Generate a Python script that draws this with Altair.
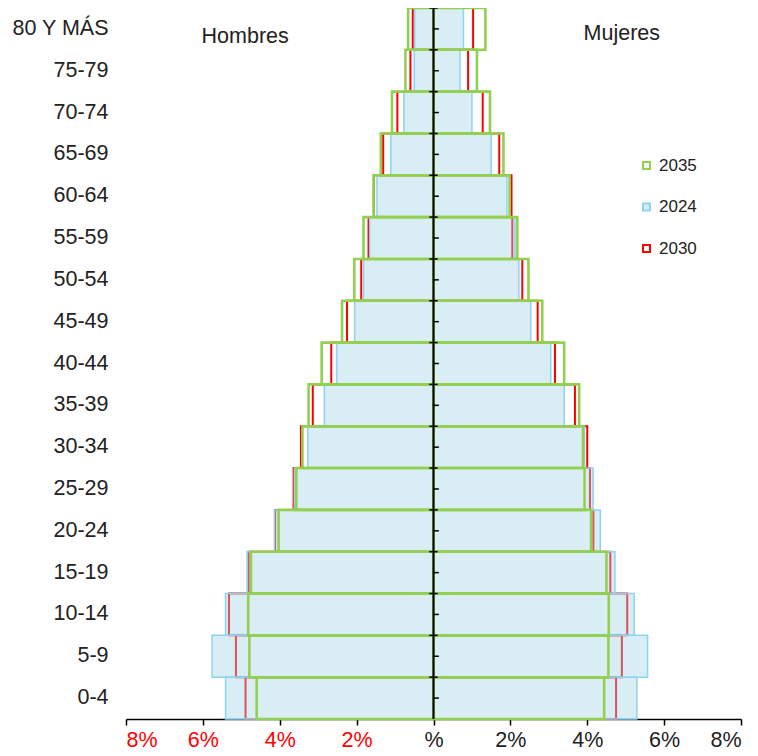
import altair as alt
import pandas as pd

ages = ["80 Y MÁS", "75-79", "70-74", "65-69", "60-64", "55-59", "50-54", "45-49",
        "40-44", "35-39", "30-34", "25-29", "20-24", "15-19", "10-14", "5-9", "0-4"]

men_2024 = [0.49, 0.50, 0.77, 1.11, 1.47, 1.66, 1.82, 2.05, 2.52, 2.84, 3.27, 3.62, 4.14, 4.85, 5.41, 5.76, 5.41]
men_2030 = [0.54, 0.60, 0.94, 1.31, 1.55, 1.69, 1.88, 2.25, 2.66, 3.14, 3.45, 3.64, 4.12, 4.81, 5.32, 5.14, 4.89]
men_2035 = [0.66, 0.73, 1.08, 1.37, 1.56, 1.82, 2.06, 2.38, 2.91, 3.25, 3.41, 3.57, 4.03, 4.75, 4.82, 4.79, 4.60]

women_2024 = [0.78, 0.69, 1.00, 1.50, 1.91, 2.12, 2.22, 2.53, 3.05, 3.40, 3.93, 4.15, 4.34, 4.72, 5.22, 5.57, 5.29]
women_2030 = [1.03, 0.90, 1.28, 1.71, 2.03, 2.05, 2.31, 2.71, 3.16, 3.68, 4.00, 4.07, 4.16, 4.60, 5.04, 4.90, 4.75]
women_2035 = [1.35, 1.13, 1.47, 1.82, 1.98, 2.18, 2.47, 2.83, 3.40, 3.79, 3.89, 3.93, 4.10, 4.50, 4.56, 4.55, 4.44]

legend_years = ["2035", "2024", "2030"]
x_ticks = [-8, -6, -4, -2, 0, 2, 4, 6, 8]

rows = []
for sign, series in [(-1, {"2024": men_2024, "2030": men_2030, "2035": men_2035}),
                     (1, {"2024": women_2024, "2030": women_2030, "2035": women_2035})]:
    for year, vals in series.items():
        for a, v in zip(ages, vals):
            rows.append({"age": a, "year": year, "value": sign * v, "zero": 0})
df = pd.DataFrame(rows)
age_df = pd.DataFrame({"age": ages})
one_df = pd.DataFrame({"k": [0]})

FONT = "Liberation Sans"
FS = 21.5

stroke_scale = alt.Scale(domain=legend_years, range=["#92d050", "#8dd3f2", "#ff0000"])
fill_scale = alt.Scale(domain=legend_years,
                       range=["transparent", "rgba(160,210,228,0.4)", "transparent"])

legend = alt.Legend(title=None, orient="none", legendX=512, legendY=149,
                    symbolType="square", symbolSize=49, symbolStrokeWidth=2,
                    labelFontSize=17, labelFont=FONT, labelColor="#222",
                    rowPadding=23.5, labelOffset=4)

x_scale = alt.Scale(domain=[-8, 8], nice=False, zero=False)
y_scale = alt.Scale(domain=ages, paddingInner=0, paddingOuter=0)

x_axis = alt.Axis(title=None, values=x_ticks, grid=False,
                  labelExpr="datum.value == 0 ? '%' : abs(datum.value) + '%'",
                  labelColor=alt.condition("datum.value < 0", alt.value("#ff0000"), alt.value("#222222")),
                  labelFontSize=FS, labelFont=FONT, labelPadding=4,
                  domainColor="black", domainWidth=1.5,
                  tickColor="black", tickSize=6, tickWidth=1.5)
y_axis = alt.Axis(title=None, domain=False, ticks=False, grid=False, labelFontSize=FS,
                  labelFont=FONT, labelColor="#222222", labelPadding=18)

x_enc = alt.X("value:Q", scale=x_scale, axis=x_axis)
y_enc = alt.Y("age:N", sort=ages, scale=y_scale, axis=y_axis)


def bars(year, sw):
    return alt.Chart(df).transform_filter(alt.datum.year == year).mark_bar(strokeWidth=sw).encode(
        y=y_enc,
        x=x_enc,
        x2="zero:Q",
        stroke=alt.Stroke("year:N", scale=stroke_scale, legend=legend),
        fill=alt.Fill("year:N", scale=fill_scale, legend=legend),
    )


red = bars("2030", 2)
blue = bars("2024", 1.5)
green = bars("2035", 2.6)

center = alt.Chart(one_df).mark_rule(color="black", strokeWidth=2).encode(
    x=alt.datum(0)
)
bound_ticks = alt.Chart(age_df).mark_rule(color="black", strokeWidth=1.5).encode(
    y=alt.Y("age:N", sort=ages, scale=y_scale, bandPosition=0, axis=y_axis),
    x=alt.datum(-0.11),
    x2=alt.datum(0.11),
)
mid_ticks = alt.Chart(age_df).mark_rule(color="black", strokeWidth=1.5).encode(
    y=alt.Y("age:N", sort=ages, scale=y_scale, axis=y_axis),
    x=alt.datum(0),
    x2=alt.datum(0.14),
)

hombres = alt.Chart(one_df).mark_text(text="Hombres", y=29, fontSize=FS, font=FONT,
                                      color="#222222", baseline="middle").encode(x=alt.datum(-4.9))
mujeres = alt.Chart(one_df).mark_text(text="Mujeres", y=26, fontSize=FS, font=FONT,
                                      color="#222222", baseline="middle").encode(x=alt.datum(4.9))

chart = alt.layer(red, blue, green, center, bound_ticks, mid_ticks, hombres, mujeres).properties(
    width=615, height=711,
    background="white",
    autosize=alt.AutoSizeParams(type="none"),
    padding={"left": 118, "top": 0, "right": 9, "bottom": 36},
).configure_view(stroke=None)

chart.save("out.html", embed_options={"renderer": "svg", "actions": False})
